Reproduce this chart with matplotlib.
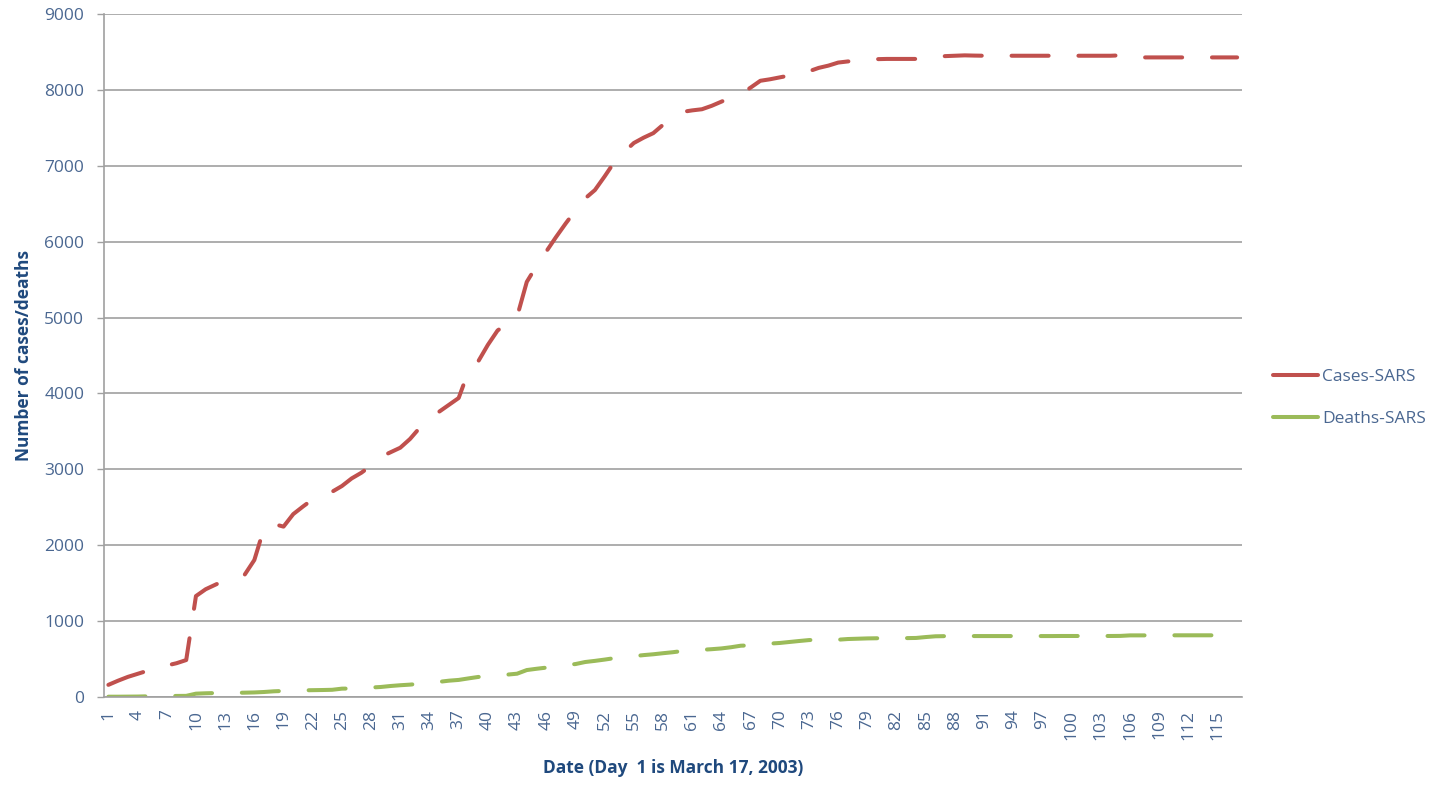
import matplotlib
matplotlib.use("Agg")
import matplotlib.pyplot as plt

days = list(range(1, 118))

cases = [160, 215, 265, 305, 345, 390, 415, 445, 487, 1330,
         1420, 1480, 1540, 1575, 1610, 1805, 2225, 2280, 2245, 2410,
         2510, 2605, 2660, 2705, 2780, 2880, 2955, 3050, 3165, 3225,
         3285, 3400, 3548, 3650, 3760, 3850, 3940, 4290, 4420, 4640,
         4830, 4920, 5010, 5470, 5680, 5870, 6060, 6240, 6410, 6570,
         6680, 6860, 7050, 7180, 7300, 7370, 7430, 7540, 7630, 7710,
         7730, 7745, 7790, 7845, 7900, 7945, 8030, 8120, 8140, 8165,
         8190, 8220, 8245, 8290, 8320, 8360, 8375, 8385, 8395, 8405,
         8408, 8408, 8408, 8408, 8410, 8438, 8445, 8450, 8455, 8452,
         8450, 8450, 8450, 8450, 8450, 8450, 8450, 8450, 8450, 8450,
         8450, 8450, 8450, 8450, 8455, 8430, 8428, 8428, 8428, 8428,
         8428, 8428, 8428, 8428, 8428, 8428, 8428]

deaths = [4, 4, 5, 6, 9, 10, 12, 14, 15, 44,
          49, 52, 53, 55, 57, 60, 66, 75, 80, 85,
          88, 90, 92, 95, 110, 112, 116, 125, 132, 145,
          155, 163, 175, 185, 200, 215, 225, 245, 264, 272,
          281, 295, 307, 355, 372, 387, 417, 423, 434, 461,
          476, 493, 512, 528, 538, 552, 563, 577, 590, 606,
          616, 622, 630, 640, 656, 676, 680, 690, 704, 712,
          725, 738, 750, 755, 755, 755, 764, 768, 772, 774,
          775, 775, 776, 778, 790, 800, 802, 802, 803, 803,
          803, 803, 803, 803, 803, 803, 803, 803, 804, 804,
          804, 804, 804, 804, 805, 812, 812, 812, 813, 813,
          813, 813, 813, 813, 813, 813, 813]

series_names = ["Cases-SARS", "Deaths-SARS"]
xtick_days = list(range(1, 118, 3))
yticks = list(range(0, 10000, 1000))

RED = "#c0504d"
GREEN = "#9bbb59"
TICK_COLOR = "#4a6791"
TITLE_COLOR = "#1f497d"

plt.rcParams['font.family'] = ['Open Sans', 'DejaVu Sans']

fig = plt.figure(figsize=(14.45, 7.89), dpi=100)
ax = fig.add_axes([103.5/1445, 1-697/789, (1242-103.5)/1445, (697-14)/789])

lw = 2.9
for vals, col, name in [(cases, RED, series_names[0]), (deaths, GREEN, series_names[1])]:
    ln, = ax.plot(days, vals, color=col, lw=lw, label=name,
                  solid_capstyle='round', dash_capstyle='round', solid_joinstyle='round')
    ln.set_dashes((9.2, 7.4))

ax.set_xlim(0.5, 117.5)
ax.set_ylim(0, 9000)
ax.set_yticks(yticks)
ax.set_yticklabels([str(v) for v in yticks])
ax.set_xticks(xtick_days)
ax.set_xticklabels([str(d) for d in xtick_days], rotation=90)

ax.grid(axis='y', color='#a0a0a0', lw=1.2)
ax.set_axisbelow(True)
for s in ['top', 'right']:
    ax.spines[s].set_visible(False)
for s in ['left', 'bottom']:
    ax.spines[s].set_color('#a0a0a0')
    ax.spines[s].set_linewidth(1.2)

ax.tick_params(axis='y', length=4.8, width=1.0, color='#a0a0a0', labelsize=12.5,
               labelcolor=TICK_COLOR, pad=9)
ax.tick_params(axis='x', length=0, labelsize=12.5, labelcolor=TICK_COLOR, pad=9)

ax.set_ylabel("Number of cases/deaths", fontsize=12.5, fontweight='bold', color=TITLE_COLOR, labelpad=8)
ax.set_xlabel("Date (Day  1 is March 17, 2003)", fontsize=12.5, fontweight='bold', color=TITLE_COLOR, labelpad=14)

handles = [plt.Line2D([], [], color=RED, lw=lw, solid_capstyle='round'),
           plt.Line2D([], [], color=GREEN, lw=lw, solid_capstyle='round')]
leg = fig.legend(handles, series_names, loc='center left',
                 bbox_to_anchor=(1273/1445, 1-398/789), frameon=False,
                 fontsize=12.5, handlelength=2.6, handletextpad=0.25, labelspacing=1.45,
                 labelcolor=TICK_COLOR, borderaxespad=0, borderpad=0)

fig.savefig("out.png", dpi=100)
